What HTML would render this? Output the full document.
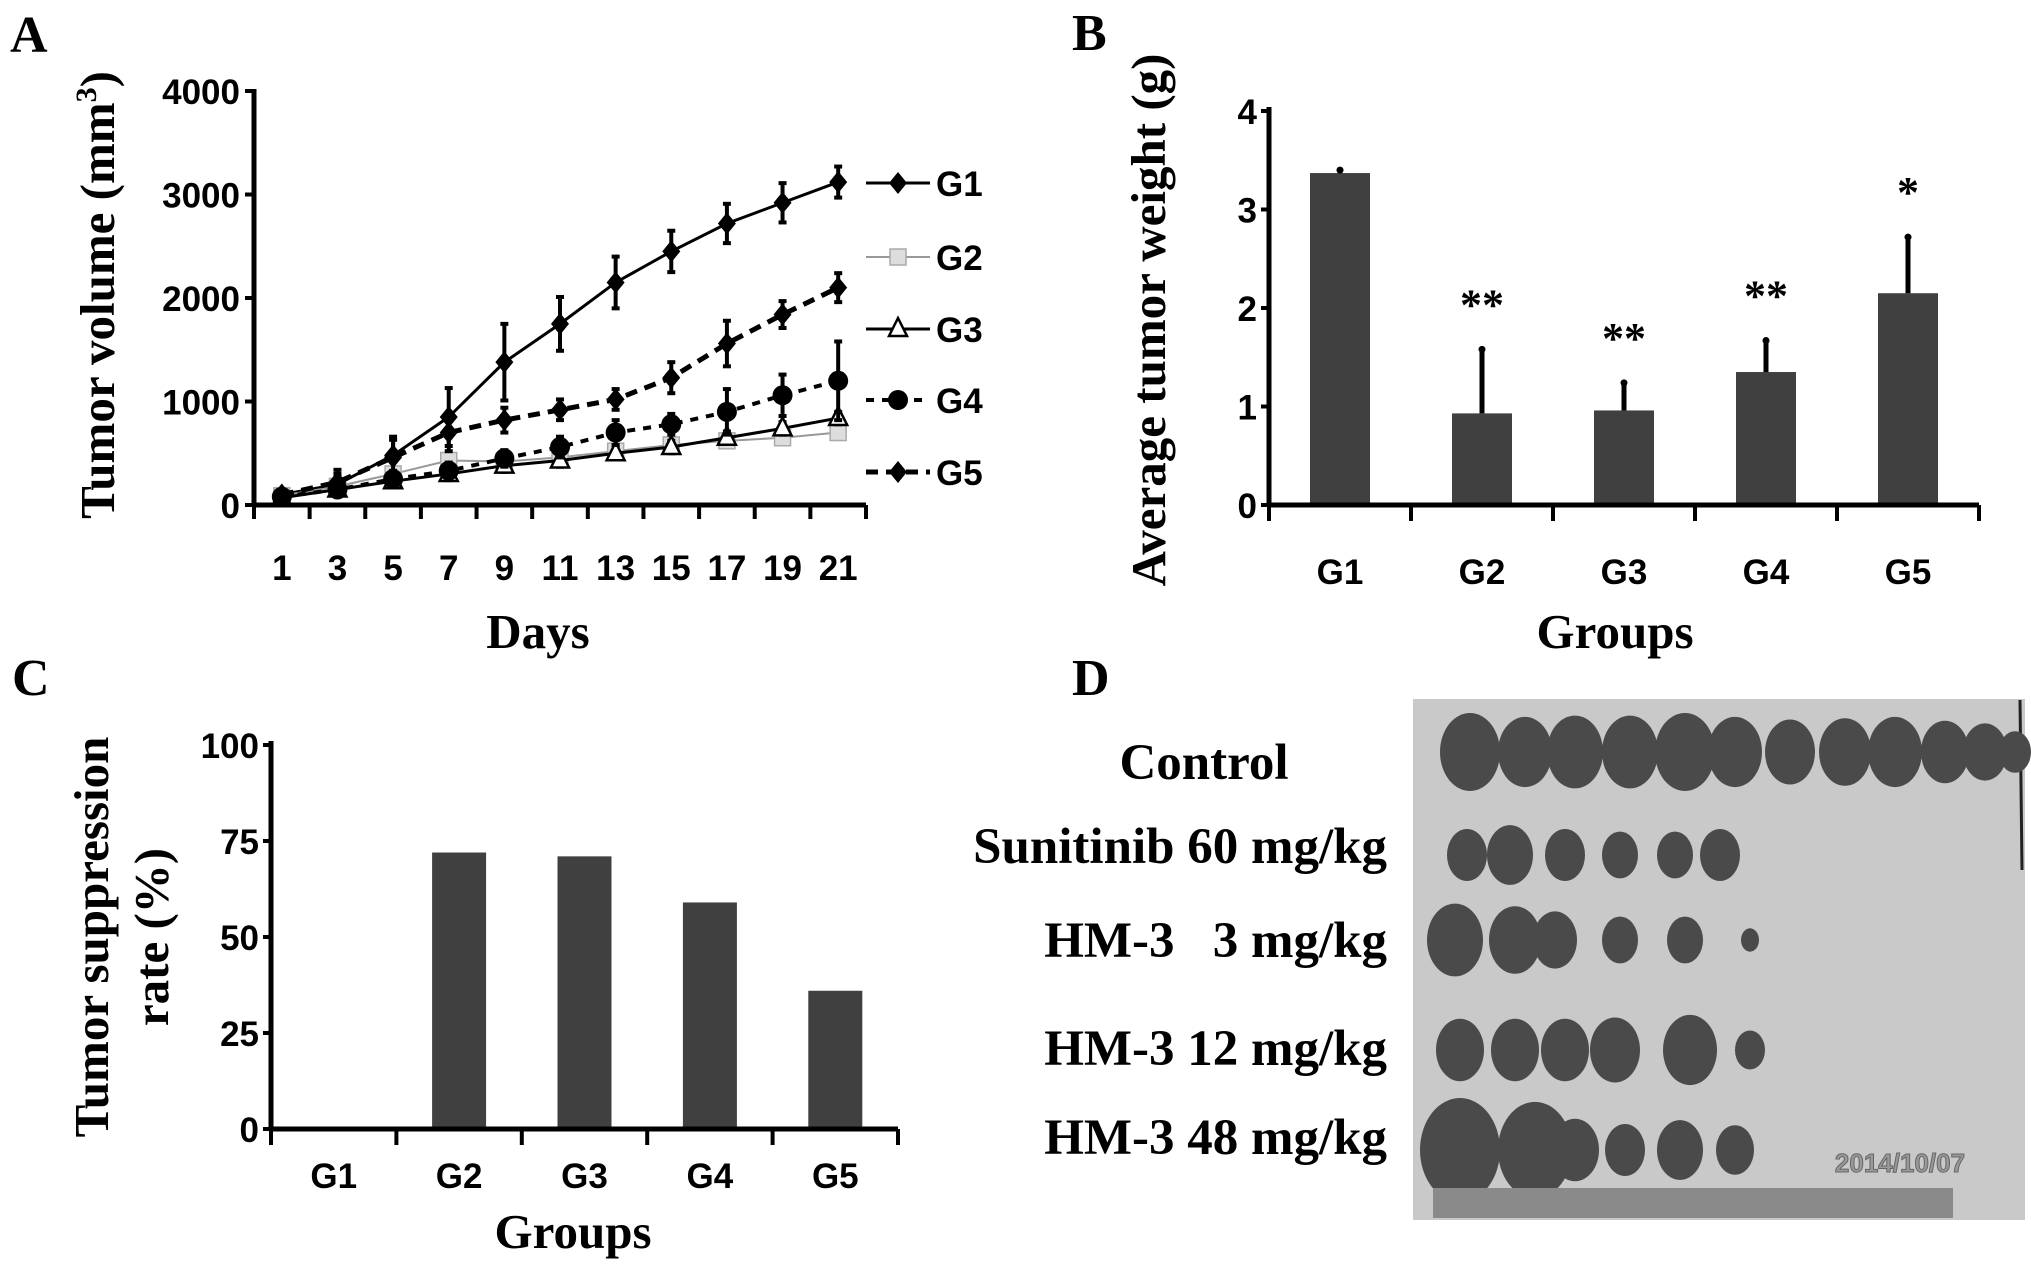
<!DOCTYPE html>
<html><head><meta charset="utf-8"><style>
html,body{margin:0;padding:0;background:#fff;}
svg{display:block;}
.tk{font-family:"Liberation Sans",sans-serif;font-weight:bold;font-size:35px;fill:#000;}
.ti{font-family:"Liberation Serif",serif;font-weight:bold;font-size:49px;fill:#000;}
.pl{font-family:"Liberation Serif",serif;font-weight:bold;font-size:52px;fill:#000;}
.dl{font-family:"Liberation Serif",serif;font-weight:bold;font-size:51px;fill:#000;}
</style></head><body>
<svg id="fig" width="2031" height="1267" viewBox="0 0 2031 1267" xmlns="http://www.w3.org/2000/svg">
<g id="pA"></g>
<g id="pB"></g>
<g id="pC"></g>
<g id="pD">
<text class="pl" x="1072" y="50">B</text>
<text class="pl" x="1072" y="695">D</text>
<text class="dl" x="1204" y="779" text-anchor="middle">Control</text>
<text class="dl" x="1387" y="863" text-anchor="end">Sunitinib 60 mg/kg</text>
<text class="dl" x="1387" y="957" text-anchor="end" xml:space="preserve">HM-3   3 mg/kg</text>
<text class="dl" x="1387" y="1065" text-anchor="end">HM-3 12 mg/kg</text>
<text class="dl" x="1387" y="1154" text-anchor="end">HM-3 48 mg/kg</text>
<rect x="1413" y="699" width="612" height="521" fill="#c9c9c9"/>
<line x1="2020" y1="700" x2="2022" y2="870" stroke="#222" stroke-width="3"/>
<g id="tumors" fill="#4a4a4a"></g>
<rect x="1433" y="1188" width="520" height="30" fill="#8a8a8a"/>
<text x="1900" y="1172" text-anchor="middle" font-family="Liberation Sans, sans-serif" font-weight="bold" font-size="26" fill="#999" stroke="#666" stroke-width="1">2014/10/07</text>
</g>
</svg>
<script>
const NS="http://www.w3.org/2000/svg";
function mk(p,t,a){const e=document.createElementNS(NS,t);for(const k in a)e.setAttribute(k,a[k]);p.appendChild(e);return e;}
function tx(p,s,a){const e=mk(p,'text',a);e.textContent=s;return e;}

// ---------- Panel A data ----------
const days=[1,3,5,7,9,11,13,15,17,19,21];
const g1=[100,200,480,850,1380,1750,2150,2450,2720,2920,3120];
const g1e=[50,100,150,280,370,260,250,200,190,190,150];
const g2=[90,180,300,430,420,460,520,580,620,650,700];
const g2e=[30,40,60,60,50,50,60,50,50,50,50];
const g3=[70,150,230,300,380,430,500,560,650,740,840];
const g3e=[30,40,50,60,60,60,60,60,60,60,60];
const g4=[80,150,250,330,450,560,700,780,900,1060,1200];
const g4e=[40,60,80,80,80,100,120,100,220,200,380];
const g5=[100,220,460,700,820,920,1020,1230,1560,1840,2100];
const g5e=[50,120,200,180,120,100,100,150,220,130,140];
const aTicks=[0,1000,2000,3000,4000];

(function(){
const g=document.getElementById('pA');
const X0=254,X1=866,Y0=505,Ytop=91;
const cw=(X1-X0)/days.length;
const xs=i=>X0+cw*(i+0.5);
const ys=v=>Y0-(v/4000)*(Y0-Ytop);
let t=tx(g,'A',{class:'pl',x:10,y:52});


aTicks.forEach(v=>{
  mk(g,'line',{x1:X0-9,x2:X0,y1:ys(v),y2:ys(v),stroke:'#000','stroke-width':4});
  const l=tx(g,String(v),{class:'tk','text-anchor':'end',x:X0-14,y:ys(v)+13});
  
  
});
for(let i=0;i<=days.length;i++) mk(g,'line',{x1:X0+cw*i,x2:X0+cw*i,y1:Y0,y2:Y0+14,stroke:'#000','stroke-width':4});
days.forEach((d,i)=>{
  const l=tx(g,String(d),{class:'tk','text-anchor':'middle',x:xs(i),y:580});
  
  
});
mk(g,'line',{x1:X0,x2:X0,y1:Ytop-2,y2:Y0+2,stroke:'#000','stroke-width':5});
mk(g,'line',{x1:X0,x2:X1,y1:Y0,y2:Y0,stroke:'#000','stroke-width':5});
const xt=tx(g,'Days',{class:'ti','text-anchor':'middle',x:538,y:648});


const yt=mk(g,'text',{class:'ti','text-anchor':'middle',transform:'translate(114,295) rotate(-90)'});
yt.innerHTML='Tumor volume (mm<tspan font-size="30" dy="-18">3</tspan><tspan dy="18">)</tspan>';


const series=[
 {n:'g1',v:g1,e:g1e,c:'#000',d:'',m:'diamond',w:3},
 {n:'g2',v:g2,e:g2e,c:'#999',d:'',m:'square',w:2},
 {n:'g3',v:g3,e:g3e,c:'#000',d:'',m:'tri',w:3},
 {n:'g4',v:g4,e:g4e,c:'#000',d:'8,8',m:'circle',w:4},
 {n:'g5',v:g5,e:g5e,c:'#000',d:'12,8',m:'diamond',w:5},
];
function marker(p,m,x,y){
  if(m==='diamond') return mk(p,'path',{d:`M${x} ${y-11}L${x+9} ${y}L${x} ${y+11}L${x-9} ${y}Z`,fill:'#000'});
  if(m==='square') return mk(p,'rect',{x:x-8,y:y-8,width:16,height:16,fill:'#ddd',stroke:'#aaa','stroke-width':1.5});
  if(m==='tri') return mk(p,'path',{d:`M${x} ${y-11}L${x+9} ${y+7}L${x-9} ${y+7}Z`,fill:'#fff',stroke:'#000','stroke-width':2.5});
  return mk(p,'circle',{cx:x,cy:y,r:10,fill:'#000'});
}
const legY=[183,257,329,400,472];
series.forEach((s,k)=>{
  const sg=mk(g,'g',{});
  
  
  s.v.forEach((v,i)=>{
    const x=xs(i);
    mk(sg,'line',{x1:x,x2:x,y1:ys(v-s.e[i]),y2:ys(v+s.e[i]),stroke:s.c,'stroke-width':4});
    mk(sg,'line',{x1:x-4,x2:x+4,y1:ys(v+s.e[i]),y2:ys(v+s.e[i]),stroke:s.c,'stroke-width':4});
    mk(sg,'line',{x1:x-4,x2:x+4,y1:ys(v-s.e[i]),y2:ys(v-s.e[i]),stroke:s.c,'stroke-width':4});
  });
  mk(sg,'polyline',{points:s.v.map((v,i)=>xs(i)+','+ys(v)).join(' '),fill:'none',stroke:s.c,'stroke-width':s.w,'stroke-dasharray':s.d});
  s.v.forEach((v,i)=>{const m=marker(sg,s.m,xs(i),ys(v));});
  const lg=mk(g,'g',{});
  
  
  mk(lg,'line',{x1:866,x2:930,y1:legY[k],y2:legY[k],stroke:s.c,'stroke-width':s.w,'stroke-dasharray':s.d});
  marker(lg,s.m,898,legY[k]);
  tx(lg,'G'+(k+1),{class:'tk',x:936,y:legY[k]+13});
});
})();

// ---------- Panel B data ----------
const groups=['G1','G2','G3','G4','G5'];
const weights=[3.37,0.93,0.96,1.35,2.15];
const weightErr=[0.03,0.65,0.28,0.32,0.57];
const stars=['','**','**','**','*'];
const bTicks=[0,1,2,3,4];

(function(){
const g=document.getElementById('pB');
const X0=1269,X1=1979,Y0=505,Ytop=111;
const cw=(X1-X0)/groups.length;
const xs=i=>X0+cw*(i+0.5);
const ys=v=>Y0-(v/4)*(Y0-Ytop);
bTicks.forEach(v=>{
  mk(g,'line',{x1:X0-8,x2:X0,y1:ys(v),y2:ys(v),stroke:'#000','stroke-width':4});
  const l=tx(g,String(v),{class:'tk','text-anchor':'end',x:X0-12,y:ys(v)+13});
  
  
});
weights.forEach((v,i)=>{
  const x=xs(i);
  const b=mk(g,'rect',{x:x-30,y:ys(v),width:60,height:Y0-ys(v),fill:'#404040'});
  
  
  mk(g,'line',{x1:x,x2:x,y1:ys(v),y2:ys(v+weightErr[i]),stroke:'#000','stroke-width':5});
  mk(g,'circle',{cx:x,cy:ys(v+weightErr[i]),r:3.5,fill:'#000'});
  const l=tx(g,groups[i],{class:'tk','text-anchor':'middle',x:x,y:584});
  
  
  if(stars[i]){
    const st=tx(g,stars[i],{'font-family':'Liberation Serif, serif','font-weight':'bold','font-size':'44','text-anchor':'middle',x:x,y:ys(v+weightErr[i])-30});
    
    
  }
});
for(let i=0;i<=groups.length;i++) mk(g,'line',{x1:X0+cw*i,x2:X0+cw*i,y1:Y0,y2:Y0+16,stroke:'#000','stroke-width':4});
mk(g,'line',{x1:X0,x2:X0,y1:Ytop-4,y2:Y0+2,stroke:'#000','stroke-width':5});
mk(g,'line',{x1:X0,x2:X1,y1:Y0,y2:Y0,stroke:'#000','stroke-width':5});
const xt=tx(g,'Groups',{class:'ti','text-anchor':'middle',x:1615,y:648});


const yt=tx(g,'Average tumor weight (g)',{class:'ti','text-anchor':'middle',transform:'translate(1165,320) rotate(-90)'});


})();

// ---------- Panel C data ----------
const groupsC=['G1','G2','G3','G4','G5'];
const suppression=[0,72,71,59,36];
const cTicks=[0,25,50,75,100];

(function(){
const g=document.getElementById('pC');
const X0=271,X1=898,Y0=1129,Ytop=745;
const cw=(X1-X0)/groupsC.length;
const xs=i=>X0+cw*(i+0.5);
const ys=v=>Y0-(v/100)*(Y0-Ytop);
let t=tx(g,'C',{class:'pl',x:12,y:695});


cTicks.forEach(v=>{
  mk(g,'line',{x1:X0-8,x2:X0,y1:ys(v),y2:ys(v),stroke:'#000','stroke-width':4});
  const l=tx(g,String(v),{class:'tk','text-anchor':'end',x:X0-12,y:ys(v)+13});
  
  
});
suppression.forEach((v,i)=>{
  const x=xs(i);
  if(v>0){
    const b=mk(g,'rect',{x:x-27,y:ys(v),width:54,height:Y0-ys(v),fill:'#404040'});
    
    
  }
  const l=tx(g,groupsC[i],{class:'tk','text-anchor':'middle',x:x,y:1188});
  
  
});
for(let i=0;i<=groupsC.length;i++) mk(g,'line',{x1:X0+cw*i,x2:X0+cw*i,y1:Y0,y2:Y0+16,stroke:'#000','stroke-width':4});
mk(g,'line',{x1:X0,x2:X0,y1:Ytop-4,y2:Y0+2,stroke:'#000','stroke-width':5});
mk(g,'line',{x1:X0,x2:X1,y1:Y0,y2:Y0,stroke:'#000','stroke-width':5});
const xt=tx(g,'Groups',{class:'ti','text-anchor':'middle',x:573,y:1248});


const y1=tx(g,'Tumor suppression',{class:'ti','text-anchor':'middle',transform:'translate(108,937) rotate(-90)'});


const y2=tx(g,'rate (%)',{class:'ti','text-anchor':'middle',transform:'translate(168,937) rotate(-90)'});


})();

// ---------- Panel D photo tumors ----------
const rowY=[752,855,940,1050,1150];
const rowX=[[1470,1525,1575,1630,1685,1735,1790,1845,1895,1945,1985,2015],[1467,1510,1565,1620,1675,1720],[1455,1515,1555,1620,1685,1750],[1460,1515,1565,1615,1690,1750],[1460,1535,1575,1625,1680,1735]];
const rowR=[[30,27,28,28,30,27,25,26,27,24,22,16],[20,23,20,18,18,20],[28,26,22,18,18,9],[24,24,24,25,27,15],[40,37,24,20,23,19]];
(function(){
const g=document.getElementById('tumors');
rowX.forEach((r,ri)=>r.forEach((x,i)=>{
  const e=mk(g,'ellipse',{cx:x,cy:rowY[ri],rx:rowR[ri][i],ry:rowR[ri][i]*1.3});
  
  
}));
})();
</script>
</body></html>
